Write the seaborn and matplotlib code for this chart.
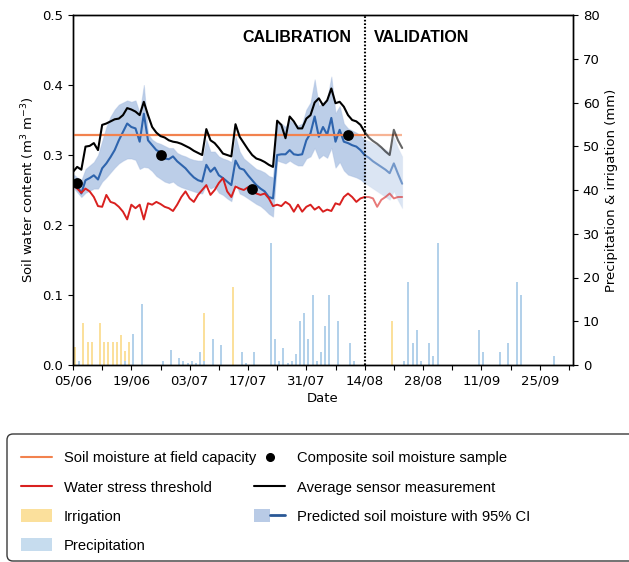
import numpy as np
import pandas as pd
import matplotlib
matplotlib.use('Agg')
import matplotlib.pyplot as plt
import seaborn as sns
from matplotlib.patches import Patch, FancyBboxPatch
from matplotlib.lines import Line2D
from matplotlib.legend_handler import HandlerTuple
from matplotlib.transforms import IdentityTransform
from matplotlib.font_manager import FontProperties

# ---------------- data ----------------
START = pd.Timestamp('2019-06-05')
SPLIT_DAY = 70            # 14/08: calibration | validation
FIELD_CAPACITY = 0.328

sensor = [0.276, 0.283, 0.279, 0.312, 0.313, 0.317, 0.307, 0.343, 0.345, 0.348,
          0.351, 0.352, 0.357, 0.367, 0.365, 0.362, 0.357, 0.376, 0.357, 0.340,
          0.332, 0.327, 0.325, 0.321, 0.319, 0.318, 0.316, 0.313, 0.310, 0.306,
          0.303, 0.300, 0.337, 0.321, 0.317, 0.310, 0.302, 0.300, 0.298, 0.344,
          0.326, 0.317, 0.308, 0.300, 0.295, 0.293, 0.290, 0.286, 0.283, 0.349,
          0.343, 0.324, 0.355, 0.348, 0.338, 0.338, 0.352, 0.357, 0.375, 0.381,
          0.371, 0.378, 0.395, 0.374, 0.376, 0.369, 0.357, 0.350, 0.348, 0.343,
          0.333, 0.325, 0.320, 0.316, 0.311, 0.305, 0.300, 0.336, 0.321, 0.310]

predicted = [0.264, 0.257, 0.245, 0.264, 0.267, 0.271, 0.265, 0.281, 0.288, 0.297,
             0.307, 0.321, 0.333, 0.345, 0.340, 0.338, 0.319, 0.359, 0.321, 0.314,
             0.307, 0.304, 0.295, 0.294, 0.298, 0.291, 0.286, 0.281, 0.274, 0.268,
             0.264, 0.262, 0.286, 0.276, 0.282, 0.271, 0.267, 0.262, 0.257, 0.292,
             0.281, 0.279, 0.271, 0.264, 0.257, 0.252, 0.248, 0.240, 0.238, 0.300,
             0.301, 0.301, 0.307, 0.301, 0.300, 0.301, 0.321, 0.331, 0.355, 0.326,
             0.340, 0.329, 0.353, 0.319, 0.336, 0.319, 0.317, 0.314, 0.312, 0.307,
             0.300, 0.296, 0.291, 0.287, 0.283, 0.279, 0.274, 0.288, 0.273, 0.259]

ci_low = [0.254, 0.247, 0.240, 0.246, 0.249, 0.252, 0.252, 0.262, 0.268, 0.275,
          0.282, 0.288, 0.292, 0.295, 0.295, 0.293, 0.280, 0.283, 0.282, 0.277,
          0.270, 0.266, 0.262, 0.260, 0.262, 0.257, 0.254, 0.252, 0.250, 0.248,
          0.246, 0.245, 0.258, 0.252, 0.255, 0.246, 0.243, 0.238, 0.234, 0.260,
          0.245, 0.242, 0.238, 0.234, 0.230, 0.227, 0.222, 0.216, 0.212, 0.292,
          0.290, 0.288, 0.292, 0.288, 0.285, 0.285, 0.295, 0.298, 0.310, 0.295,
          0.300, 0.296, 0.310, 0.282, 0.290, 0.278, 0.272, 0.270, 0.268, 0.265,
          0.260, 0.256, 0.252, 0.248, 0.244, 0.240, 0.236, 0.248, 0.235, 0.224]

ci_high = [0.273, 0.268, 0.264, 0.280, 0.285, 0.290, 0.300, 0.320, 0.340, 0.355,
           0.365, 0.372, 0.375, 0.378, 0.376, 0.378, 0.360, 0.400, 0.330, 0.322,
           0.318, 0.316, 0.313, 0.310, 0.310, 0.303, 0.300, 0.298, 0.295, 0.293,
           0.292, 0.292, 0.322, 0.305, 0.305, 0.298, 0.295, 0.293, 0.290, 0.327,
           0.305, 0.295, 0.290, 0.285, 0.280, 0.278, 0.275, 0.270, 0.268, 0.345,
           0.345, 0.340, 0.350, 0.345, 0.342, 0.345, 0.365, 0.375, 0.408, 0.370,
           0.375, 0.380, 0.412, 0.360, 0.370, 0.345, 0.338, 0.335, 0.332, 0.328,
           0.322, 0.320, 0.317, 0.314, 0.311, 0.308, 0.304, 0.326, 0.310, 0.298]

stress = [0.257, 0.252, 0.246, 0.252, 0.248, 0.240, 0.227, 0.226, 0.243, 0.233,
          0.231, 0.226, 0.219, 0.208, 0.229, 0.224, 0.229, 0.208, 0.231, 0.229,
          0.233, 0.230, 0.226, 0.224, 0.220, 0.229, 0.240, 0.248, 0.238, 0.233,
          0.243, 0.250, 0.257, 0.243, 0.250, 0.260, 0.267, 0.248, 0.240, 0.255,
          0.252, 0.250, 0.254, 0.248, 0.245, 0.243, 0.245, 0.238, 0.227, 0.229,
          0.227, 0.233, 0.229, 0.219, 0.229, 0.219, 0.226, 0.229, 0.222, 0.226,
          0.219, 0.222, 0.220, 0.231, 0.229, 0.240, 0.245, 0.240, 0.233, 0.238,
          0.240, 0.240, 0.238, 0.226, 0.236, 0.240, 0.245, 0.238, 0.240, 0.240]

sample_day = [1, 21, 43, 66]
sample_val = [0.260, 0.300, 0.251, 0.329]

irr_day = [0, 2, 3, 4, 6, 7, 8, 9, 10, 11, 12, 13, 31, 38, 76]
irr_mm = [4.2, 9.5, 5.2, 5.2, 9.5, 5.2, 5.2, 5.2, 5.2, 6.8, 3.3, 5.2, 11.9, 17.8, 10.1]

prec_day = [1, 12, 14, 16, 21, 23, 25, 26, 27, 28, 29, 30, 31, 33, 35, 40, 41, 43,
            47, 48, 49, 50, 51, 52, 53, 54, 55, 56, 57, 58, 59, 60, 61, 63, 66, 67,
            79, 80, 81, 82, 83, 85, 86, 87, 97, 98, 102, 104, 106, 107, 115]
prec_mm = [1.0, 1.0, 7.0, 13.9, 1.0, 3.5, 1.6, 1.0, 0.5, 1.0, 0.5, 3.0, 1.0, 6.0, 4.6, 3.0, 0.4, 3.0,
           28.0, 6.0, 1.0, 4.0, 0.5, 1.0, 2.5, 10.0, 12.0, 6.0, 16.0, 1.0, 3.0, 9.0, 16.0, 10.0, 5.0, 1.0,
           1.0, 19.0, 5.0, 8.0, 1.0, 5.0, 2.0, 28.0, 8.0, 3.0, 3.0, 5.0, 19.0, 16.0, 2.0]

xtick_labels = ['05/06', '19/06', '03/07', '17/07', '31/07', '14/08', '28/08', '11/09', '25/09']
left_ticks = [0.0, 0.1, 0.2, 0.3, 0.4, 0.5]
right_ticks = [0, 10, 20, 30, 40, 50, 60, 70, 80]

legend_col1 = ['Soil moisture at field capacity', 'Water stress threshold', 'Irrigation', 'Precipitation']
legend_col2 = ['Composite soil moisture sample', 'Average sensor measurement',
               'Predicted soil moisture with 95% CI']

# ---------------- styling ----------------
sns.set_style('ticks')
plt.rcParams['font.family'] = ['DejaVu Sans']
plt.rcParams.update({
    'axes.edgecolor': 'black', 'axes.linewidth': 1.0,
    'xtick.color': 'black', 'ytick.color': 'black',
    'xtick.labelsize': 9.5, 'ytick.labelsize': 9.5, 'axes.labelsize': 9.5,
    'axes.labelcolor': 'black', 'text.color': 'black',
})

C_ORANGE = '#f2824e'
C_RED = '#d9201f'
C_BLUE = '#2e64ad'
C_BAND = '#4f7fc4'
C_IRR = '#fbe09c'
C_PREC = '#b3d1ea'

def day(d):
    return START + pd.to_timedelta(np.asarray(d, dtype=float), unit='D')

n = len(sensor)
df = pd.DataFrame({'date': day(np.arange(n)), 'day': np.arange(n), 'sensor': sensor,
                   'predicted': predicted, 'low': ci_low, 'high': ci_high, 'stress': stress})
calib = df[df['day'] <= SPLIT_DAY]
valid = df[df['day'] >= SPLIT_DAY]

fig = plt.figure(figsize=(6.29, 5.62), dpi=100)
ax = fig.add_axes([73 / 629, 1 - 365 / 562, 500 / 629, 350 / 562])
ax2 = ax.twinx()
ax.set_zorder(ax2.get_zorder() + 1)
ax.patch.set_visible(False)

# bars (right axis)
ax2.bar(day(irr_day) + pd.Timedelta(hours=12), irr_mm, width=0.48, color=C_IRR, linewidth=0)
ax2.bar(day(prec_day) + pd.Timedelta(hours=12), prec_mm, width=0.48, color=C_PREC, linewidth=0)

# CI bands
ax.fill_between(calib['date'], calib['low'], calib['high'], color=C_BAND, alpha=0.38, linewidth=0.8,
                edgecolor='#9fb6dc')
ax.fill_between(valid['date'], valid['low'], valid['high'], color=C_BAND, alpha=0.2, linewidth=0.8,
                edgecolor='#c4d3ea')

# predicted
sns.lineplot(data=calib, x='date', y='predicted', ax=ax, color=C_BLUE, lw=1.5)
sns.lineplot(data=valid, x='date', y='predicted', ax=ax, color=C_BLUE, lw=1.5, alpha=0.6)

# field capacity
ax.hlines(FIELD_CAPACITY, day(0), day(SPLIT_DAY), color=C_ORANGE, lw=1.6)
ax.hlines(FIELD_CAPACITY, day(SPLIT_DAY), day(n - 1), color=C_ORANGE, lw=1.6, alpha=0.6)

# sensor
sns.lineplot(data=calib, x='date', y='sensor', ax=ax, color='black', lw=1.5)
sns.lineplot(data=valid, x='date', y='sensor', ax=ax, color='black', lw=1.5, alpha=0.6)

# water stress
sns.lineplot(data=calib, x='date', y='stress', ax=ax, color=C_RED, lw=1.4)
sns.lineplot(data=valid, x='date', y='stress', ax=ax, color=C_RED, lw=1.4, alpha=0.6)

# samples
sns.scatterplot(x=day(sample_day), y=sample_val, ax=ax, color='black', s=60, linewidth=0, zorder=6)

# split line
ax.axvline(day(SPLIT_DAY), color='black', lw=1.5, ls=(0, (0.8, 0.9)), zorder=7)
ax.text(day(66.9), 0.4676, 'CALIBRATION', ha='right', va='center', fontsize=11.5,
        fontweight='bold', family=['Liberation Sans', 'DejaVu Sans'])
ax.text(day(72.1), 0.4676, 'VALIDATION', ha='left', va='center', fontsize=11.5,
        fontweight='bold', family=['Liberation Sans', 'DejaVu Sans'])

# axes
ax.set_xlim(day(0), day(120))
ax.set_ylim(0, 0.5)
ax2.set_ylim(0, 80)
ax.set_yticks(left_ticks)
ax.set_yticklabels([f'{v:.1f}' for v in left_ticks])
ax2.set_yticks(right_ticks)
ticks = day(np.arange(0, 120, 7))
ax.set_xticks(ticks)
labs = []
for i in range(len(ticks)):
    labs.append(xtick_labels[i // 2] if i % 2 == 0 else '')
ax.set_xticklabels(labs)
ax.set_xlabel('Date', labelpad=3)
ax.set_ylabel('Soil water content (m$^3$ m$^{-3}$)')
ax2.set_ylabel('Precipitation & irrigation (mm)')
for a in (ax, ax2):
    for s in a.spines.values():
        s.set_visible(True)
        s.set_color('black')

# ---------------- legend ----------------
leg_font = FontProperties(family=['Liberation Sans', 'DejaVu Sans'], size=10.6)
fpx = leg_font.get_size_in_points() * 100 / 72

h_fc = Line2D([], [], color=C_ORANGE, lw=1.5)
h_ws = Line2D([], [], color=C_RED, lw=1.5)
h_irr = Patch(facecolor=C_IRR, edgecolor='none')
h_pr = Patch(facecolor='#c6dcee', edgecolor='none')
h_s = Line2D([], [], color='black', marker='o', ls='', markersize=5.5)
h_avg = Line2D([], [], color='black', lw=1.5)
h_pred = (Patch(facecolor='#b9cbe6', edgecolor='none'), Line2D([], [], color='#2a5896', lw=2))

frame = FancyBboxPatch((7, 1), 700, 127, boxstyle='round,pad=0,rounding_size=6',
                       transform=IdentityTransform(), facecolor='white', edgecolor='#3a3a3a',
                       linewidth=1.0, zorder=0)
fig.patches.append(frame)

row_h = 28.7
text_h = 0.97 * fpx
common = dict(loc='upper left', ncol=1, frameon=False, bbox_transform=fig.transFigure,
              borderpad=0, borderaxespad=0, handlelength=31 / fpx, handleheight=1.0,
              handletextpad=12 / fpx, labelspacing=(row_h - text_h) / fpx, prop=leg_font,
              handler_map={tuple: HandlerTuple(ndivide=None, pad=0)})
top_y = 1 - (458 - text_h / 2) / 562
fig.legend([h_fc, h_ws, h_irr, h_pr], legend_col1, bbox_to_anchor=(21 / 629, top_y), **common)
fig.legend([h_s, h_avg, h_pred], legend_col2, bbox_to_anchor=(254 / 629, top_y), **common)

fig.savefig('out.png', dpi=100)
